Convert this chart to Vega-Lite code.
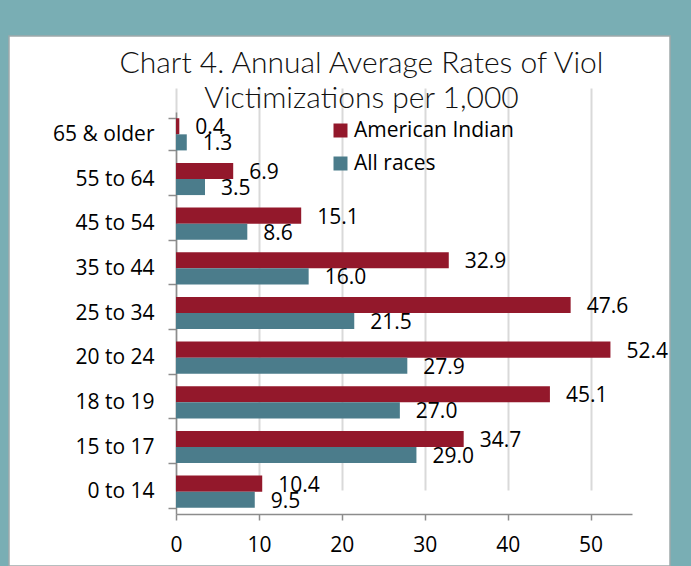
{
  "$schema": "https://vega.github.io/schema/vega-lite/v6.json",
  "width": 661,
  "height": 530,
  "autosize": {"type": "none"},
  "padding": {"left": 9, "top": 36, "right": 21, "bottom": 0},
  "background": "#79AEB4",
  "config": {
    "view": {"fill": "white", "stroke": "#9FA9AA", "strokeWidth": 1.5},
    "font": "Open Sans"
  },
  "title": {
    "text": ["Chart 4.  Annual Average Rates of Viol", "Victimizations per 1,000"],
    "font": "Lato",
    "fontSize": 30,
    "fontWeight": 300,
    "color": "#111111",
    "lineHeight": 35,
    "anchor": "middle",
    "dx": 22,
    "dy": 89,
    "offset": 0
  },
  "data": {
    "values": [
      {"age": "65 & older", "race": "American Indian", "rate": 0.4},
      {"age": "65 & older", "race": "All races", "rate": 1.3},
      {"age": "55 to 64", "race": "American Indian", "rate": 6.9},
      {"age": "55 to 64", "race": "All races", "rate": 3.5},
      {"age": "45 to 54", "race": "American Indian", "rate": 15.1},
      {"age": "45 to 54", "race": "All races", "rate": 8.6},
      {"age": "35 to 44", "race": "American Indian", "rate": 32.9},
      {"age": "35 to 44", "race": "All races", "rate": 16.0},
      {"age": "25 to 34", "race": "American Indian", "rate": 47.6},
      {"age": "25 to 34", "race": "All races", "rate": 21.5},
      {"age": "20 to 24", "race": "American Indian", "rate": 52.4},
      {"age": "20 to 24", "race": "All races", "rate": 27.9},
      {"age": "18 to 19", "race": "American Indian", "rate": 45.1},
      {"age": "18 to 19", "race": "All races", "rate": 27.0},
      {"age": "15 to 17", "race": "American Indian", "rate": 34.7},
      {"age": "15 to 17", "race": "All races", "rate": 29.0},
      {"age": "0 to 14", "race": "American Indian", "rate": 10.4},
      {"age": "0 to 14", "race": "All races", "rate": 9.5}
    ]
  },
  "encoding": {
    "y": {
      "field": "age",
      "type": "nominal",
      "sort": ["65 & older", "55 to 64", "45 to 54", "35 to 44", "25 to 34", "20 to 24", "18 to 19", "15 to 17", "0 to 14"],
      "scale": {"range": [76, 478], "paddingInner": 0.28, "paddingOuter": 0.14},
      "axis": {
        "title": null,
        "offset": -167,
        "tickBand": "extent",
        "grid": false,
        "domainColor": "#8C8C8C",
        "domainWidth": 1.5,
        "tickColor": "#8C8C8C",
        "tickWidth": 1.5,
        "tickSize": 8,
        "labelFontSize": 21,
        "labelFont": "Open Sans",
        "labelColor": "#000000",
        "labelPadding": 14
      }
    },
    "yOffset": {
      "field": "race",
      "type": "nominal",
      "sort": ["American Indian", "All races"],
      "scale": {"paddingInner": 0, "paddingOuter": 0}
    },
    "x": {
      "field": "rate",
      "type": "quantitative",
      "scale": {"domain": [0, 55], "range": [167, 623], "nice": false, "zero": true},
      "axis": {
        "title": null,
        "orient": "bottom",
        "offset": -52,
        "values": [0, 10, 20, 30, 40, 50],
        "labelFlush": false,
        "grid": true,
        "gridColor": "#D9D9D9",
        "gridWidth": 2,
        "domainColor": "#8C8C8C",
        "domainWidth": 1.5,
        "tickColor": "#8C8C8C",
        "tickWidth": 1.5,
        "tickSize": 6,
        "labelFontSize": 21,
        "labelFont": "Open Sans",
        "labelColor": "#000000",
        "labelPadding": 14
      }
    }
  },
  "layer": [
    {
      "mark": {"type": "bar"},
      "encoding": {
        "color": {
          "field": "race",
          "type": "nominal",
          "sort": ["American Indian", "All races"],
          "scale": {"domain": ["American Indian", "All races"], "range": ["#93182B", "#4B7C8B"]},
          "legend": {
            "orient": "none",
            "legendX": 321,
            "legendY": 84,
            "title": null,
            "symbolType": "square",
            "symbolSize": 196,
            "symbolStrokeWidth": 0,
            "labelFontSize": 21,
            "labelFont": "Open Sans",
            "labelColor": "#000000",
            "rowPadding": 11,
            "labelOffset": 3
          }
        }
      }
    },
    {
      "mark": {"type": "text", "align": "left", "baseline": "middle", "dx": 16, "dy": 2, "fontSize": 21, "font": "Open Sans", "color": "#000000"},
      "encoding": {
        "text": {"field": "rate", "type": "quantitative", "format": ".1f"}
      }
    }
  ]
}
